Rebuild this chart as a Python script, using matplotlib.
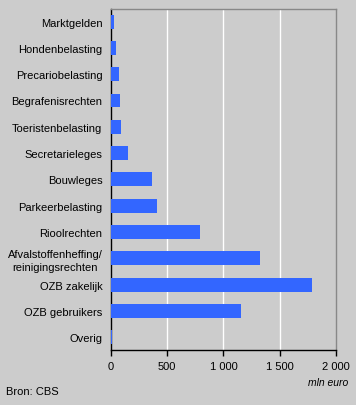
import matplotlib.pyplot as plt
import numpy as np

plt.rcParams['font.family'] = ['Liberation Sans', 'DejaVu Sans']

# Data (mln euro), top to bottom
categories = [
    "Marktgelden",
    "Hondenbelasting",
    "Precariobelasting",
    "Begrafenisrechten",
    "Toeristenbelasting",
    "Secretarieleges",
    "Bouwleges",
    "Parkeerbelasting",
    "Rioolrechten",
    "Afvalstoffenheffing/\nreinigingsrechten",
    "OZB zakelijk",
    "OZB gebruikers",
    "Overig",
]
values = [25, 44, 70, 80, 95, 150, 370, 413, 796, 1327, 1788, 1159, 15]
xticks = [0, 500, 1000, 1500, 2000]
xtick_labels = ["0", "500", "1 000", "1 500", "2 000"]

bg = "#cccccc"
bar_color = "#3366ff"

fig = plt.figure(figsize=(3.56, 4.06), dpi=100, facecolor=bg)
ax = fig.add_axes([0.311, 0.1347, 0.633, 0.8407], facecolor=bg)

y = np.arange(len(categories))
ax.barh(y, values, height=0.53, color=bar_color, zorder=3)

ax.set_xlim(0, 2000)
ax.set_ylim(len(categories) - 0.5, -0.48)

ax.set_xticks(xticks)
ax.set_xticklabels(xtick_labels, fontsize=8)
ax.set_yticks(y)
ax.set_yticklabels(categories, fontsize=8, multialignment='center',
                   linespacing=1.3)
ax.tick_params(axis='y', length=0, pad=6)
ax.tick_params(axis='x', length=4, width=1, color='black', pad=4)

for v in xticks[1:-1]:
    ax.axvline(v, color='white', lw=1, zorder=1)

ax.spines['left'].set_color('black')
ax.spines['bottom'].set_color('black')
ax.spines['top'].set_color('#888888')
ax.spines['right'].set_color('#888888')
for s in ax.spines.values():
    s.set_linewidth(1)

fig.text(348 / 356, 1 - 383 / 406, "mln euro", fontsize=7.5, style='italic',
         ha='right', va='center')
fig.text(6 / 356, 1 - 392 / 406, "Bron: CBS", fontsize=8, ha='left', va='center')

fig.savefig("out.png", dpi=100, facecolor=bg)
